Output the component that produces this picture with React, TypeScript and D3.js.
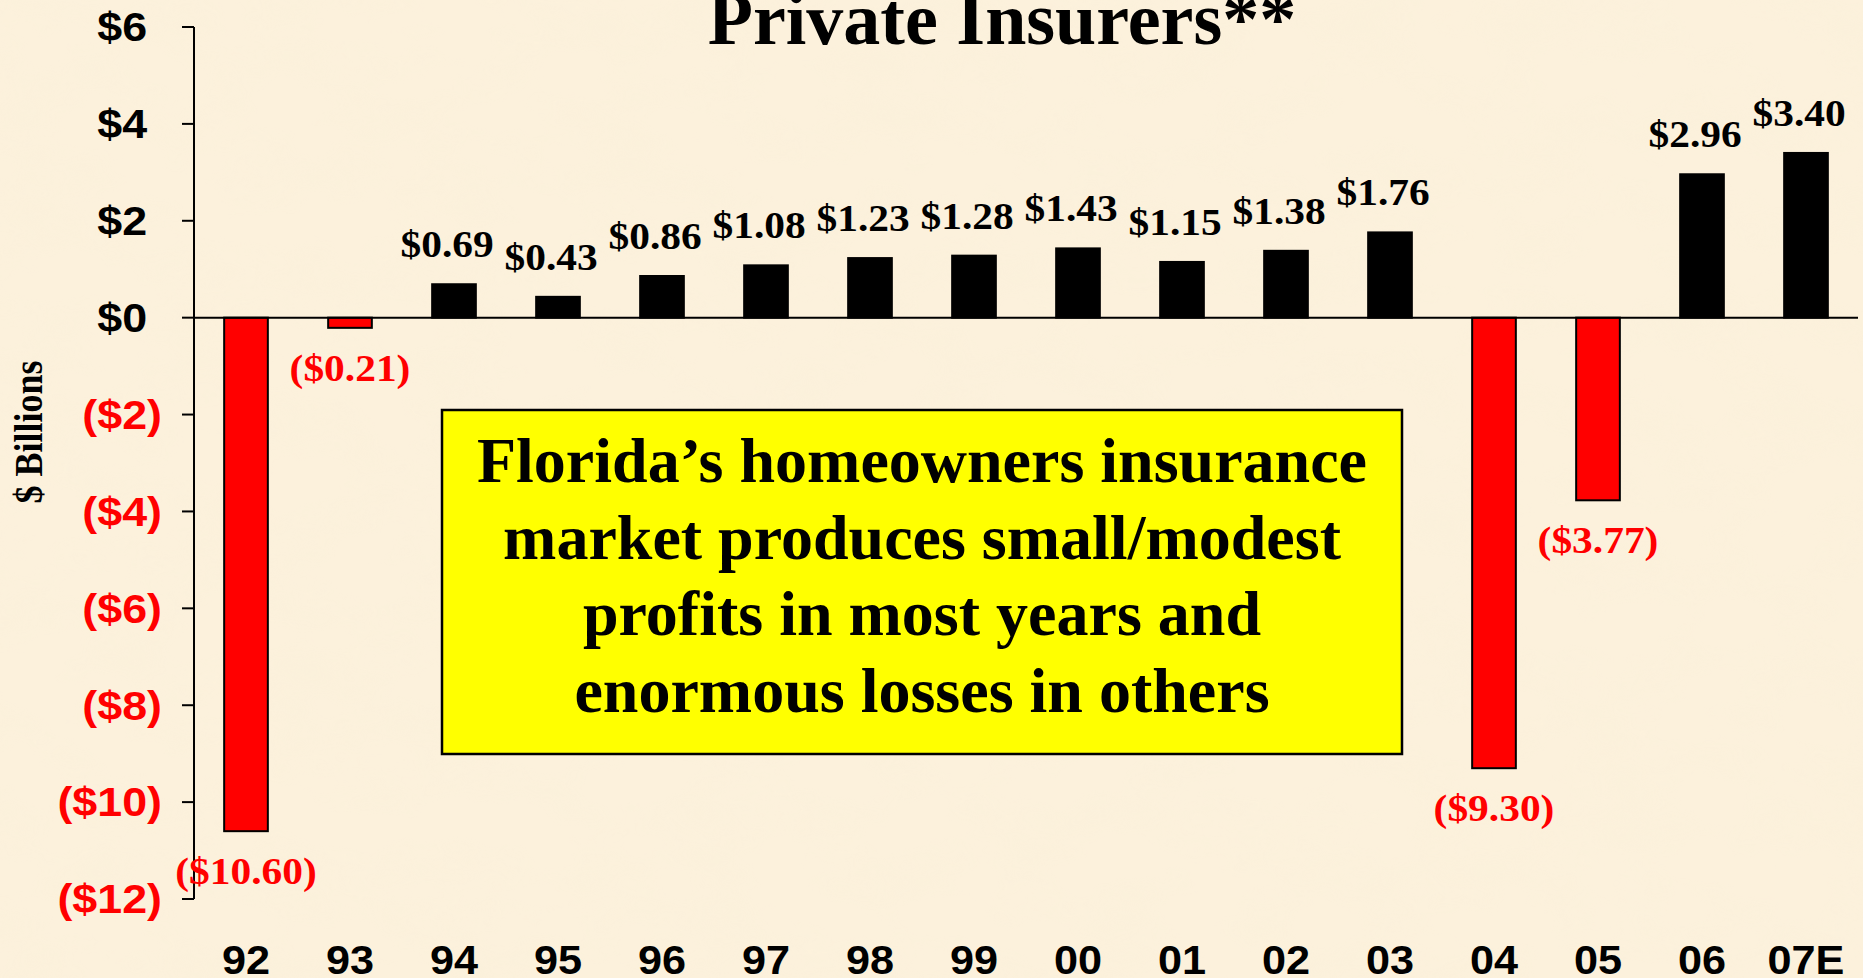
import React, { useEffect } from "react";
import * as d3 from "d3";

const years = ["92", "93", "94", "95", "96", "97", "98", "99", "00", "01", "02", "03", "04", "05", "06", "07E"];
const profits = [-10.6, -0.21, 0.69, 0.43, 0.86, 1.08, 1.23, 1.28, 1.43, 1.15, 1.38, 1.76, -9.3, -3.77, 2.96, 3.4];
const yTicks = [6, 4, 2, 0, -2, -4, -6, -8, -10, -12];
const titleText = "Private Insurers**";
const yAxisTitle = "$ Billions";
const boxLines = [
  "Florida\u2019s homeowners insurance",
  "market produces small/modest",
  "profits in most years and",
  "enormous losses in others",
];

const W = 1863;
const H = 978;
const SERIF = "'Liberation Serif', 'Times New Roman', serif";
const SANS = "'Liberation Sans', Arial, sans-serif";
const RED = "#FF0000";

export default function App() {
  useEffect(() => {
    document.body.style.margin = "0";
    document.body.style.overflow = "hidden";
  }, []);

  const x = d3.scaleBand<string>().domain(years).range([194, 1858]).paddingInner(0.58).paddingOuter(0.29);
  const y = d3.scaleLinear().domain([-12, 6]).range([899, 27]);
  const bw = x.bandwidth();
  const y0 = y(0);

  const fmtVal = (v: number) => (v >= 0 ? `$${v.toFixed(2)}` : `($${Math.abs(v).toFixed(2)})`);
  const fmtTick = (v: number) => (v >= 0 ? `$${v}` : `($${-v})`);

  const valFs = 37;
  const valSx = 1.12;
  const tickFs = 40;
  const tickSx = 1.12;

  return (
    <svg width={W} height={H} style={{ position: "absolute", left: 0, top: 0, display: "block" }}>
      <defs>
        <filter id="paper" x="0" y="0" width="100%" height="100%">
          <feTurbulence type="fractalNoise" baseFrequency="0.012 0.02" numOctaves="3" seed="7" result="n" />
          <feColorMatrix
            in="n"
            type="matrix"
            values="0 0 0 0 0.93  0 0 0 0 0.86  0 0 0 0 0.68  0.9 0 0 0 -0.38"
          />
        </filter>
      </defs>
      <rect x={0} y={0} width={W} height={H} fill="#FCF1DC" />
      <rect x={0} y={0} width={W} height={H} filter="url(#paper)" opacity={0.45} />

      {/* title */}
      <text x={1002} y={44} textAnchor="middle" fontFamily={SERIF} fontWeight="bold" fontSize={74} fill="#000">
        {titleText}
      </text>

      {/* y axis title */}
      <text
        transform={`translate(42,432) scale(1.12,1) rotate(-90)`}
        textAnchor="middle"
        fontFamily={SERIF}
        fontWeight="bold"
        fontSize={36}
        fill="#000"
      >
        {yAxisTitle}
      </text>

      {/* bars */}
      {profits.map((v, i) => {
        const yr = years[i];
        const top = Math.min(y(v), y0);
        const h = Math.abs(y(v) - y0);
        return (
          <rect
            key={yr}
            x={x(yr)!}
            y={top}
            width={bw}
            height={h}
            fill={v >= 0 ? "#000" : RED}
            stroke="#000"
            strokeWidth={2}
          />
        );
      })}

      {/* y axis */}
      <line x1={194} x2={194} y1={y(6)} y2={y(-12)} stroke="#000" strokeWidth={2} />
      {yTicks.map((t) => (
        <g key={t}>
          <line x1={182} x2={194} y1={y(t)} y2={y(t)} stroke="#000" strokeWidth={2} />
          <text
            transform={`translate(162,${y(t) + 0.358 * tickFs}) scale(${tickSx},1)`}
            x={t >= 0 ? -0.333 * tickFs : 0}
            textAnchor="end"
            fontFamily={SANS}
            fontWeight="bold"
            fontSize={tickFs}
            fill={t >= 0 ? "#000" : RED}
          >
            {fmtTick(t)}
          </text>
        </g>
      ))}

      {/* zero line */}
      <line x1={194} x2={1858} y1={y0} y2={y0} stroke="#000" strokeWidth={2} />

      {/* value labels */}
      {profits.map((v, i) => {
        const yr = years[i];
        const cx = x(yr)! + bw / 2;
        const ly = v >= 0 ? y(v) - 27 : y(v) + 53;
        return (
          <text
            key={"l" + yr}
            transform={`translate(${cx},${ly}) scale(${valSx},1)`}
            x={v >= 0 ? (-0.333 * valFs) / 2 : 0}
            textAnchor="middle"
            fontFamily={SERIF}
            fontWeight="bold"
            fontSize={valFs}
            fill={v >= 0 ? "#000" : RED}
          >
            {fmtVal(v)}
          </text>
        );
      })}

      {/* x labels */}
      {years.map((yr) => (
        <text
          key={"x" + yr}
          transform={`translate(${x(yr)! + bw / 2},974) scale(1.08,1)`}
          textAnchor="middle"
          fontFamily={SANS}
          fontWeight="bold"
          fontSize={40}
          fill="#000"
        >
          {yr}
        </text>
      ))}

      {/* annotation box */}
      <rect x={442} y={410} width={960} height={344} fill="#FFFF00" stroke="#000" strokeWidth={2.5} />
      {boxLines.map((ln, i) => (
        <text
          key={"b" + i}
          x={922}
          y={482 + i * 76.6}
          textAnchor="middle"
          fontFamily={SERIF}
          fontWeight="bold"
          fontSize={64}
          fill="#000"
        >
          {ln}
        </text>
      ))}
    </svg>
  );
}
